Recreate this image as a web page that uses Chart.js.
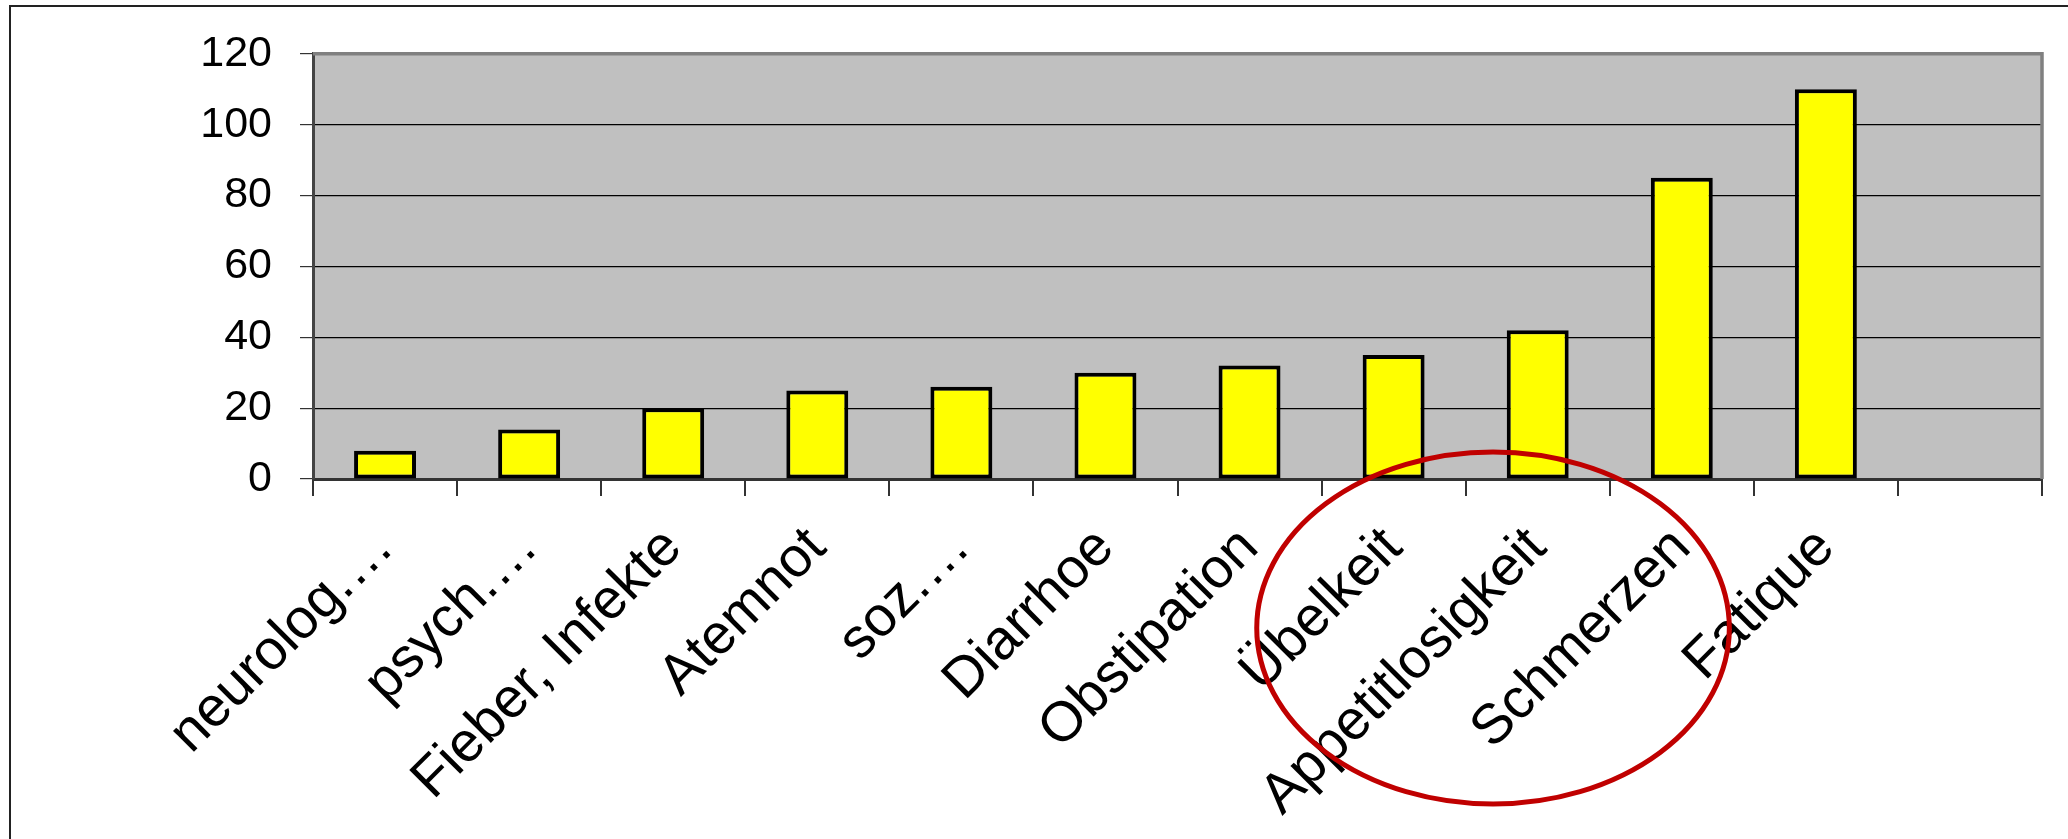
<!DOCTYPE html>
<html>
<head>
<meta charset="utf-8">
<script src="https://cdn.jsdelivr.net/npm/chart.js@4/dist/chart.umd.min.js"></script>
<style>
  html, body { margin: 0; padding: 0; background: #fff; }
  #wrap { position: relative; width: 2068px; height: 839px; overflow: hidden; }
  #frame {
    position: absolute; left: 9px; top: 5px; width: 2200px; height: 900px;
    border-left: 2px solid #222; border-top: 2px solid #222;
  }
  #symptomChart { position: absolute; left: 0; top: 0; }
</style>
</head>
<body>
<div id="wrap">
  <div id="frame"></div>
  <canvas id="symptomChart" width="2068" height="839"></canvas>
</div>
<script>
// Symptome, nach Häufigkeit sortiert (letzte Kategorie bleibt leer)
const symptome = ['neurolog.…', 'psych.…', 'Fieber, Infekte', 'Atemnot', 'soz.…', 'Diarrhoe',
                  'Obstipation', 'Übelkeit', 'Appetitlosigkeit', 'Schmerzen', 'Fatique', ''];
const anzahl = [8, 14, 20, 25, 26, 30, 32, 35, 42, 85, 110, null];
const yTicks = [0, 20, 40, 60, 80, 100, 120];

const familie = '"Liberation Sans", Arial, sans-serif';

// grauer Hintergrund + Rahmen oben/rechts der Zeichenfläche
const plotFrame = {
    id: 'plotFrame',
    beforeDraw(chart) {
        const a = chart.chartArea, c = chart.ctx;
        c.save();
        c.fillStyle = '#C0C0C0';
        c.fillRect(a.left, a.top, a.right - a.left, a.bottom - a.top);
        c.restore();
    },
    afterDatasetsDraw(chart) {
        const a = chart.chartArea, c = chart.ctx;
        c.save();
        c.strokeStyle = '#808080';
        c.lineWidth = 3.5;
        c.beginPath();
        c.moveTo(a.left, a.top);
        c.lineTo(a.right, a.top);
        c.lineTo(a.right, a.bottom);
        c.stroke();
        c.restore();
    }
};

// rote Markierung um Übelkeit .. Schmerzen
const kreis = {
    id: 'kreis',
    afterDraw(chart) {
        const x = chart.scales.x, a = chart.chartArea, c = chart.ctx;
        const w = x.getPixelForValue(1) - x.getPixelForValue(0);
        const cx = x.getPixelForValue(8) - 0.31 * w;
        const cy = a.bottom + 149;
        c.save();
        c.strokeStyle = '#C00000';
        c.lineWidth = 5;
        c.beginPath();
        c.ellipse(cx, cy, 1.64 * w, 176, 0, 0, Math.PI * 2);
        c.stroke();
        c.restore();
    }
};

new Chart(document.getElementById('symptomChart'), {
    type: 'bar',
    data: {
        labels: symptome,
        datasets: [{
            label: 'Anzahl',
            data: anzahl,
            backgroundColor: '#FFFF00',
            borderColor: '#000000',
            borderWidth: 4,
            borderSkipped: false,
            barPercentage: 0.43,
            categoryPercentage: 1
        }]
    },
    options: {
        responsive: false,
        animation: false,
        devicePixelRatio: 1,
        layout: { padding: { left: 0, top: 52, right: 26, bottom: 0 } },
        plugins: { legend: { display: false }, tooltip: { enabled: false } },
        scales: {
            x: {
                afterFit(s) { s.height = 360; },
                grid: {
                    offset: true,
                    drawOnChartArea: false,
                    tickLength: 17,
                    color: '#333',
                    lineWidth: 2
                },
                border: { color: '#333', width: 3 },
                ticks: {
                    color: '#000',
                    font: { family: familie, size: 56 },
                    minRotation: 45,
                    maxRotation: 45,
                    autoSkip: false,
                    padding: 19
                }
            },
            y: {
                min: 0,
                max: 120,
                afterFit(s) { s.width = 313; },
                afterBuildTicks(s) { s.ticks = yTicks.map(v => ({ value: v })); },
                grid: {
                    color: ctx => ctx.tick && (ctx.tick.value === 120 || ctx.tick.value === 0) ? 'rgba(0,0,0,0)' : '#000',
                    tickColor: '#333',
                    lineWidth: 1.2,
                    tickLength: 13
                },
                border: { color: '#444', width: 3 },
                ticks: { color: '#000', font: { family: familie, size: 43 }, padding: 28 }
            }
        }
    },
    plugins: [plotFrame, kreis]
});
</script>
</body>
</html>
